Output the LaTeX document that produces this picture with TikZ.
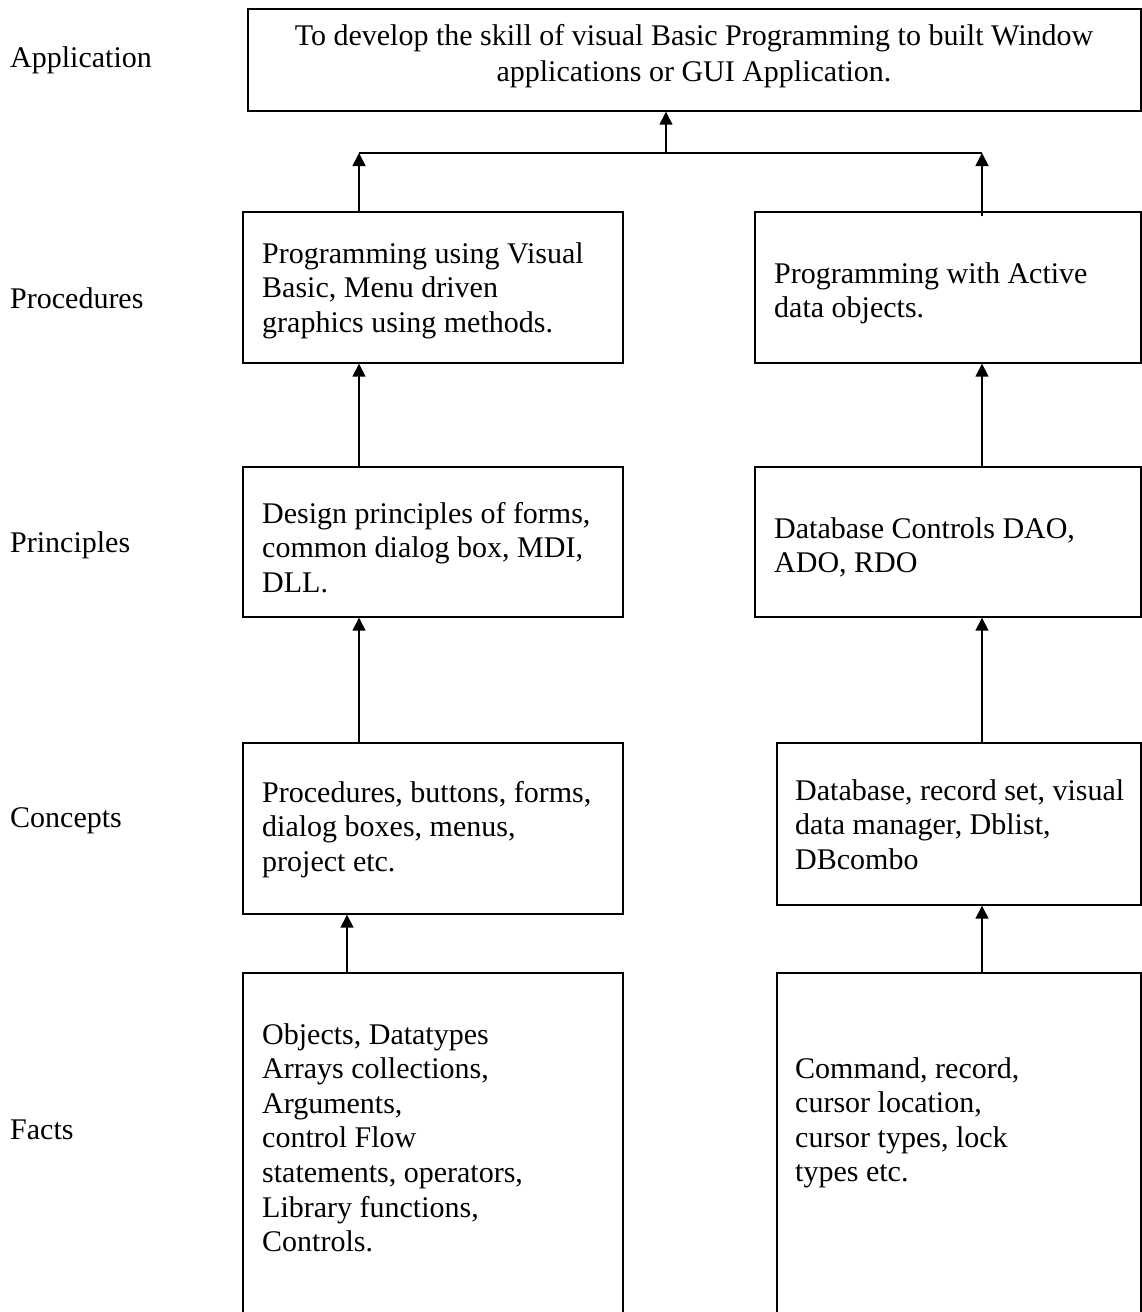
\documentclass[tikz,border=0pt]{standalone}
\usepackage{fontspec}
\setmainfont{Liberation Serif}
\usetikzlibrary{arrows.meta,calc}
\newcommand\mytxt[2]{\parbox[t]{#1}{\raggedright #2}}
\newcommand\myctxt[2]{\parbox[t]{#1}{\centering #2}}
\tikzset{
  box/.style={draw, fill=white, line width=1.7pt, inner sep=0pt, anchor=north west},
  txt/.style={anchor=base west, inner sep=0pt, font=\fontsize{30}{34.6}\selectfont},
  lbl/.style={anchor=base west, inner sep=0pt, font=\fontsize{30}{34.6}\selectfont},
  arr/.style={line width=1.5pt, -{Triangle[length=13pt,width=13pt]}},
  conn/.style={line width=1.5pt}
}
\begin{document}
\begin{tikzpicture}[x=1pt,y=-1pt]
\clip (0,0) rectangle (1142,1312);
\fill[white] (0,0) rectangle (1142,1312);
% boxes
\node[box, minimum width=893pt, minimum height=102pt] (top) at (247,8) {};
\node[box, minimum width=380pt, minimum height=151pt] (prl) at (242,211) {};
\node[box, minimum width=386pt, minimum height=151pt] (prr) at (754,211) {};
\node[box, minimum width=380pt, minimum height=150pt] (pil) at (242,466) {};
\node[box, minimum width=386pt, minimum height=150pt] (pir) at (754,466) {};
\node[box, minimum width=380pt, minimum height=171pt] (col) at (242,742) {};
\node[box, minimum width=364pt, minimum height=162pt] (cor) at (776,742) {};
\node[box, minimum width=380pt, minimum height=360pt] (fal) at (242,972) {};
\node[box, minimum width=364pt, minimum height=360pt] (far) at (776,972) {};
% texts
\node[txt, anchor=base] (ttop) at (694,45) {\myctxt{880pt}{\fontsize{30}{36.5}\selectfont To develop the skill of visual Basic Programming to built Window\\applications or GUI Application.}};
\node[txt] (tprl) at (262,263) {\mytxt{360pt}{Programming using Visual\\Basic, Menu driven\\graphics using methods.}};
\node[txt] (tprr) at (774,283) {\mytxt{360pt}{Programming with Active\\data objects.}};
\node[txt] (tpil) at (262,523) {\mytxt{360pt}{Design principles of forms,\\common dialog box, MDI,\\DLL.}};
\node[txt] (tpir) at (774,538) {\mytxt{360pt}{Database Controls DAO,\\ADO, RDO}};
\node[txt] (tcol) at (262,802) {\mytxt{360pt}{Procedures, buttons, forms,\\dialog boxes, menus,\\project etc.}};
\node[txt] (tcor) at (795,800) {\mytxt{340pt}{Database, record set, visual\\data manager, Dblist,\\DBcombo}};
\node[txt] (tfal) at (262,1044) {\mytxt{350pt}{Objects, Datatypes\\Arrays collections,\\Arguments,\\control Flow\\statements, operators,\\Library functions,\\Controls.}};
\node[txt] (tfar) at (795,1078) {\mytxt{330pt}{Command, record,\\cursor location,\\cursor types, lock\\types etc.}};
% level labels
\node[lbl] (lapp) at (10,67) {Application};
\node[lbl] (lpro) at (10,308) {Procedures};
\node[lbl] (lpri) at (10,552) {Principles};
\node[lbl] (lcon) at (10,827) {Concepts};
\node[lbl] (lfac) at (10,1139) {Facts};
% connectors
\coordinate (xl) at (359,0);
\coordinate (xr) at (982,0);
\coordinate (xf) at (347,0);
\coordinate (jl) at (359,153);
\coordinate (jr) at (982,153);
\coordinate (jc) at (666,153);
\draw[conn] (jl) -- (jr);
\draw[arr] (jc) -- (top.south -| jc);
\draw[arr] (prl.north -| jl) -- (jl);
\draw[arr] ($(prr.north -| jr)+(0,5)$) -- (jr);
\draw[arr] (pil.north -| xl) -- (prl.south -| xl);
\draw[arr] (pir.north -| xr) -- (prr.south -| xr);
\draw[arr] (col.north -| xl) -- (pil.south -| xl);
\draw[arr] (cor.north -| xr) -- (pir.south -| xr);
\draw[arr] (fal.north -| xf) -- (col.south -| xf);
\draw[arr] (far.north -| xr) -- (cor.south -| xr);
\end{tikzpicture}
\end{document}
